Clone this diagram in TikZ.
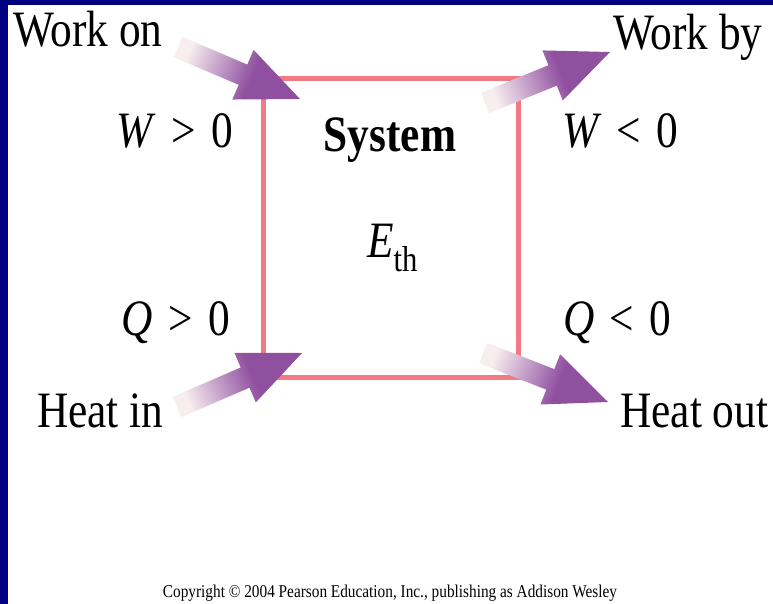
\documentclass[tikz,border=0pt]{standalone}
\usepackage{fontspec}
\setmainfont{Liberation Serif}[FakeStretch=0.85]
\usetikzlibrary{calc}

\definecolor{slidenavy}{RGB}{0,0,128}
\definecolor{boxpink}{RGB}{242,122,130}
\definecolor{arrowpurple}{RGB}{144,80,160}
\definecolor{arrowpale}{RGB}{248,238,240}

\pgfdeclarehorizontalshading{arrowfade}{100bp}{color(0bp)=(arrowpale);
  color(26bp)=(arrowpale); color(58bp)=(arrowpurple); color(100bp)=(arrowpurple)}

\newcommand{\sgn}[2]{\textit{#1}\hspace{0.3em}#2\hspace{0.3em}0}

% block arrow from tail to tip, fading in along its length
\newcommand{\energyarrow}[2]{%
  \path let \p1 = ($(#2)-(#1)$) in
    \pgfextra{\pgfmathsetmacro{\arrang}{atan2(\y1,\x1)}%
              \pgfmathsetmacro{\arrlen}{veclen(\x1,\y1)}%
              \global\let\arrang\arrang \global\let\arrlen\arrlen};
  \shade[shading=arrowfade, shading angle=\arrang, shift={(#1)}, rotate=\arrang]
    (0,-11) -- ({\arrlen-62},-11) -- ({\arrlen-62},-27) -- (\arrlen,0)
    -- ({\arrlen-62},27) -- ({\arrlen-62},11) -- (0,11) -- cycle;
}

\begin{document}
\begin{tikzpicture}[
  x=1pt, y=1pt,
  lbl/.style={inner sep=0pt, font=\fontsize{51}{51}\selectfont},
  sysbox/.style={rectangle, draw=boxpink, line width=5pt,
                 minimum width=255pt, minimum height=298pt},
]
  \useasboundingbox (0,0) rectangle (773,-604);
  \fill[white] (0,0) rectangle (773,-604);
  \fill[slidenavy] (0,0) rectangle (8,-604);
  \fill[slidenavy] (0,0) rectangle (773,-5);

  \node[sysbox] (sys) at (390.5,-228) {};
  \node[lbl, anchor=base, font=\fontsize{51}{51}\selectfont\bfseries] (systxt) at (390,-152) {System};
  \node[lbl, anchor=base west] (eth) at (367,-257)
    {\textit{E}\raisebox{-14pt}{\fontsize{36}{36}\selectfont th}};

  \node[lbl, anchor=base west] (workon) at (13,-47) {Work on};
  \node[lbl, anchor=base east] (wpos) at (233,-148) {\sgn{W}{>}};
  \node[lbl, anchor=base east] (qpos) at (230,-335) {\sgn{Q}{>}};
  \node[lbl, anchor=base west] (heatin) at (37,-427) {Heat in};

  \node[lbl, anchor=base west] (workby) at (613,-50) {Work by};
  \node[lbl, anchor=base west] (wneg) at (562,-148) {\sgn{W}{<}};
  \node[lbl, anchor=base west] (qneg) at (563,-335) {\sgn{Q}{<}};
  \node[lbl, anchor=base west] (heatout) at (620,-427) {Heat out};

  \node[inner sep=0pt, anchor=base, font=\fontsize{18}{18}\selectfont] (copy) at (390,-597)
    {Copyright © 2004 Pearson Education, Inc., publishing as Addison Wesley};

  \coordinate (wonT) at (178,-47);  \coordinate (wonH) at (300,-99);
  \coordinate (wbyT) at (485,-103); \coordinate (wbyH) at (610,-52);
  \coordinate (hinT) at (177,-407); \coordinate (hinH) at (302,-353);
  \coordinate (houT) at (483,-353); \coordinate (houH) at (608,-402);

  \energyarrow{wonT}{wonH}
  \energyarrow{wbyT}{wbyH}
  \energyarrow{hinT}{hinH}
  \energyarrow{houT}{houH}
\end{tikzpicture}
\end{document}
